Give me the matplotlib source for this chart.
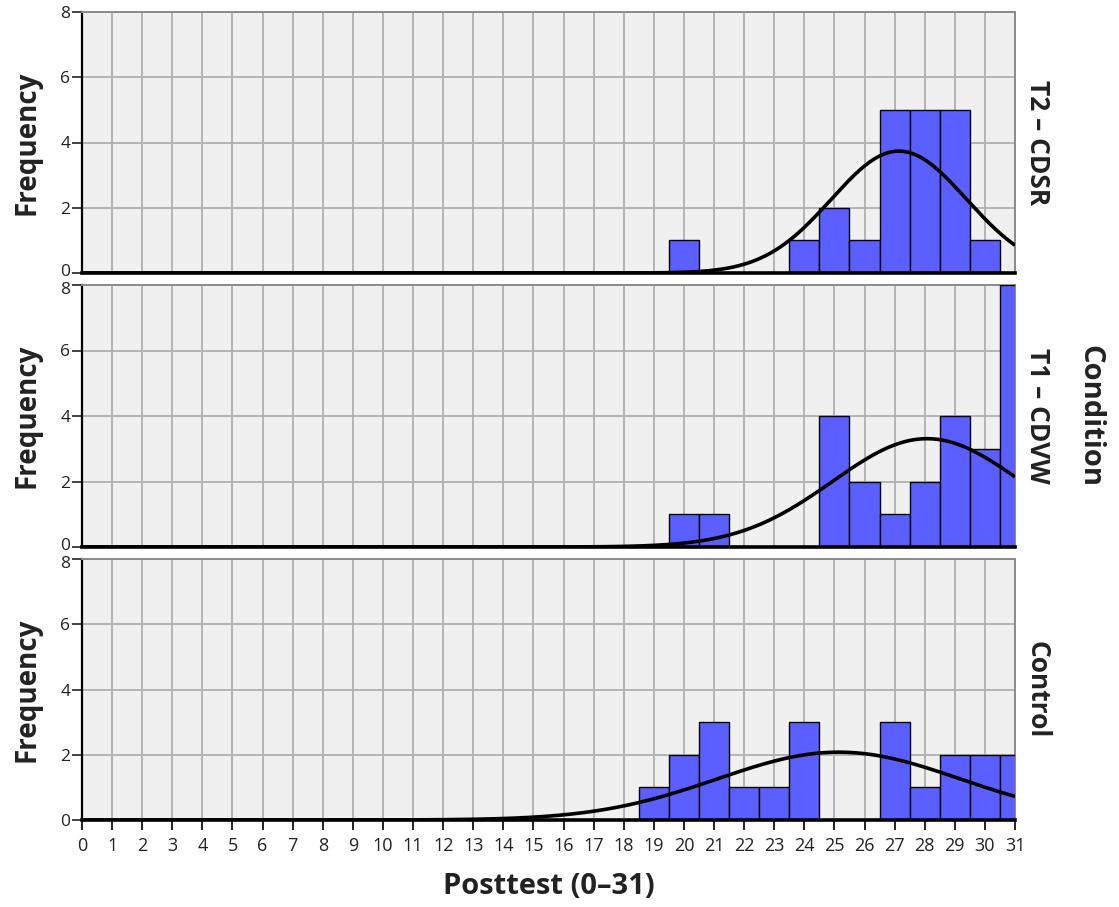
import numpy as np
import matplotlib
matplotlib.use("Agg")
import matplotlib.pyplot as plt
from matplotlib.transforms import ScaledTranslation

# Posttest score histograms per condition (score -> frequency)
scores = list(range(0, 32))
panel_names = ["T2 – CDSR", "T1 – CDVW", "Control"]
counts_t2 = {20: 1, 24: 1, 25: 2, 26: 1, 27: 5, 28: 5, 29: 5, 30: 1}
counts_t1 = {20: 1, 21: 1, 25: 4, 26: 2, 27: 1, 28: 2, 29: 4, 30: 3, 31: 8}
counts_ctrl = {19: 1, 20: 2, 21: 3, 22: 1, 23: 1, 24: 3, 27: 3, 28: 1,
               29: 2, 30: 2, 31: 2}
y_ticks = [0, 2, 4, 6, 8]
x_label = "Posttest (0–31)"
y_label = "Frequency"
facet_title = "Condition"

plt.rcParams['font.family'] = ['Open Sans', 'DejaVu Sans']

fig = plt.figure(figsize=(11.19, 9.07), dpi=100)
W, H = 1119, 907
left, right = 82, 1015
panel_px = [(12, 273), (285, 547), (559, 820)]

bar_color = '#5b5fff'
face = '#f0f0f0'
grid_c = '#b4b4b4'
text_c = '#222222'

all_counts = [counts_t2, counts_t1, counts_ctrl]
axes = []
for i, ((top, bot), counts, name) in enumerate(zip(panel_px, all_counts, panel_names)):
    ax = fig.add_axes([left / W, 1 - bot / H, (right - left) / W, (bot - top) / H])
    axes.append(ax)
    ax.set_facecolor(face)
    xs = sorted(counts)
    hs = [counts[k] for k in xs]
    ax.bar(xs, hs, width=1.0, color=bar_color, edgecolor='black',
           linewidth=1.0, zorder=3)

    # normal curve fitted to the sample, scaled to counts per unit bin
    data = np.repeat(xs, hs).astype(float)
    mu, sd = data.mean(), data.std(ddof=1)
    n = len(data)
    xx = np.linspace(0, 31, 600)
    yy = n / (sd * np.sqrt(2 * np.pi)) * np.exp(-0.5 * ((xx - mu) / sd) ** 2)
    ax.plot(xx, yy, color='black', lw=2.6, zorder=4, solid_capstyle='butt')

    ax.set_xlim(0, 31)
    ax.set_ylim(0, 8)
    ax.set_xticks(scores)
    ax.set_yticks(y_ticks)
    ax.grid(True, color=grid_c, lw=1.4, zorder=0)
    ax.set_axisbelow(True)
    for s in ['top', 'right']:
        ax.spines[s].set_color('#8a8a8a')
        ax.spines[s].set_linewidth(1.4)
    ax.spines['left'].set_color('black')
    ax.spines['left'].set_linewidth(1.6)
    ax.spines['bottom'].set_color('black')
    ax.spines['bottom'].set_linewidth(2.6)
    ax.spines['bottom'].set_zorder(5)
    ax.tick_params(axis='y', direction='out', length=7, width=1.2,
                   labelsize=12.5, colors=text_c, pad=1.5)
    ax.tick_params(axis='x', direction='out', length=7.5, width=1.4,
                   labelsize=13, colors=text_c, pad=5)
    if i < 2:
        ax.tick_params(axis='x', length=0, labelbottom=False)

    # nudge the end labels so stacked panels' 0 and 8 sit apart
    ylabels = ax.get_yticklabels()
    if i < 2:
        ylabels[0].set_transform(ylabels[0].get_transform()
                                 + ScaledTranslation(0, 2.5 / 72, fig.dpi_scale_trans))
    if i > 0:
        ylabels[-1].set_transform(ylabels[-1].get_transform()
                                  + ScaledTranslation(0, -2.5 / 72, fig.dpi_scale_trans))

    ax.set_ylabel(y_label, fontsize=20, fontweight='bold', color=text_c)
    ax.yaxis.set_label_coords((41 - left) / (right - left), 0.5)
    ax.text((1037 - left) / (right - left), 0.5, name, transform=ax.transAxes,
            rotation=-90, fontsize=19, fontweight='bold',
            ha='center', va='center', color=text_c)

axes[1].text((1090 - left) / (right - left), 0.5, facet_title,
             transform=axes[1].transAxes, rotation=-90, fontsize=21,
             fontweight='bold', ha='center', va='center', color=text_c)
axes[2].set_xlabel(x_label, fontsize=21, fontweight='bold', labelpad=12,
                   color=text_c)

fig.savefig("out.png", dpi=100)
